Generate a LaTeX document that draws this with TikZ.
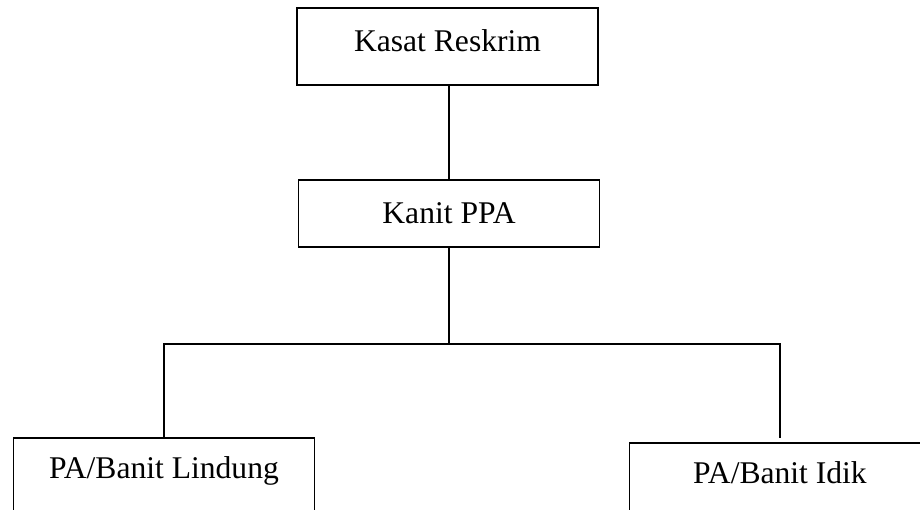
\documentclass[tikz,border=0pt]{standalone}
\usepackage{fontspec}
\setmainfont{Liberation Serif}
\usetikzlibrary{calc}

\begin{document}
\begin{tikzpicture}[x=1pt,y=-1pt,line width=1.6pt,
    jabatan/.style={draw,rectangle,minimum width=301pt,inner sep=0pt,
      text height=22pt,font=\fontsize{31.6}{38}\selectfont}]
    \useasboundingbox (0,0) rectangle (920,510);
    \clip (0,0) rectangle (920,510);
    \node[jabatan,minimum height=77pt,text depth=12pt] (kasat) at (447.5,46.5) {Kasat Reskrim};
    \node[jabatan,minimum height=67pt,text depth=1pt] (kanit) at (449,213.5) {Kanit PPA};
    \node[jabatan,anchor=north,text height=40.5pt,text depth=60pt] (lindung) at (164,437) {PA/Banit Lindung};
    \node[jabatan,anchor=north,text height=40.5pt,text depth=60pt] (idik) at (780,442) {PA/Banit Idik};
    \coordinate (cabang) at (449,344);
    \draw (kanit.north |- kasat.south) -- (kanit.north);
    \draw (kanit.south) -- (cabang);
    \draw (lindung.north) -- (lindung.north |- cabang) -- (idik.north |- cabang) -- ($(idik.north)+(0,-4)$);
  \end{tikzpicture}
\end{document}
